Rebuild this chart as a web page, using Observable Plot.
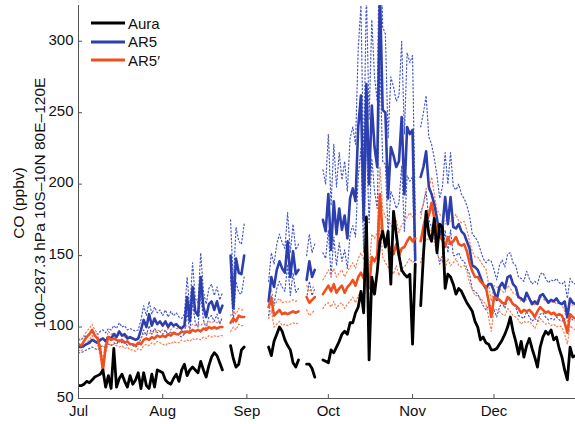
<!DOCTYPE html>
<html>
<head>
<meta charset="utf-8">
<script src="https://cdn.jsdelivr.net/npm/d3@7"></script>
<script src="https://cdn.jsdelivr.net/npm/@observablehq/plot@0.6"></script>
<style>
  body { margin: 0; background: #fff; font-family: "Liberation Sans", Arial, Helvetica, sans-serif; }
  #wrap { position: relative; width: 575px; height: 424px; overflow: hidden; background: #fff; }
  #chart svg { display: block; }
  #legend { position: absolute; left: 91px; top: 14px; font-size: 15px; color: #111; }
  #legend .row { height: 18.5px; display: flex; align-items: center; white-space: nowrap; }
  #legend svg { margin-right: 3px; }
  #ylabel { position: absolute; left: 29px; top: 203px; transform: translate(-50%, -50%) rotate(-90deg);
            white-space: nowrap; text-align: center; font-size: 15.5px; line-height: 21px; color: #111; }
</style>
</head>
<body>
<div id="wrap">
  <div id="chart"></div>
  <div id="legend"></div>
  <div id="ylabel">CO (ppbv)<br>100–287.3 hPa 10S–10N 80E–120E</div>
</div>
<script>
// ---------- data (daily, 1 Jul – 31 Dec; null = no data) ----------
const seriesNames = ["Aura", "AR5", "AR5\u2032"];
const monthLabels = ["Jul", "Aug", "Sep", "Oct", "Nov", "Dec"];
const yTicks = [50, 100, 150, 200, 250, 300];

const aura = [
  // Jul
  59,59,60,62,61,63,65,66,67,70,58,66,57,85,58,64,67,62,58,66,60,63,68,57,68,59,57,67,58,70,69,
  // Aug
  68,63,61,60,64,67,62,70,74,66,70,72,70,68,76,70,65,73,79,82,80,75,70,null,null,87,78,72,74,84,86,
  // Sep
  null,null,null,null,null,null,null,null,86,80,90,95,100,97,91,87,84,75,72,77,null,null,74,74,71,65,null,null,77,76,
  // Oct
  75,84,82,86,90,95,97,95,103,103,110,114,125,110,177,77,135,123,139,160,167,156,167,130,181,165,150,140,137,135,137,
  // Nov
  88,144,null,115,150,181,165,160,176,152,172,170,127,137,135,130,123,127,125,121,117,114,111,104,100,91,93,89,88,84,
  // Dec
  84,85,88,91,95,100,107,97,90,81,90,79,87,92,85,79,72,86,93,97,95,98,91,93,85,79,70,63,86,79,80
];

const ar5 = [
  86,86,87,88,89,91,90,89,91,92,90,93,92,95,93,97,94,95,92,93,92,91,92,98,105,100,109,101,106,102,104,
  101,104,100,103,101,102,100,99,101,121,104,128,111,108,135,114,107,116,118,112,118,110,115,null,null,150,113,148,138,137,150,
  null,null,null,null,null,null,null,null,118,135,128,140,146,141,138,160,135,153,137,140,null,null,133,146,135,140,null,null,175,167,
  193,154,188,165,183,168,178,162,190,197,188,240,262,175,270,200,255,226,212,335,252,250,190,226,220,212,216,247,193,240,235,
  238,147,null,205,212,223,198,193,186,176,163,170,191,172,191,170,169,172,167,165,160,155,143,142,140,135,130,127,130,130,
  125,119,128,131,127,135,136,130,128,121,120,118,124,120,116,118,116,122,123,120,117,119,118,120,117,116,118,107,120,117,116
];
const ar5Hi = [
  91,91,93,94,95,97,96,95,97,98,96,99,98,101,99,103,100,101,98,99,98,97,98,105,115,108,118,109,114,110,112,
  108,112,107,111,108,110,107,106,109,135,112,145,120,117,152,125,116,127,130,122,128,119,124,null,null,175,130,170,160,158,172,
  null,null,null,null,null,null,null,null,132,152,144,158,165,159,155,180,152,172,154,158,null,null,150,165,152,158,null,null,210,200,
  235,185,228,198,222,203,216,195,232,240,228,295,325,212,335,245,315,275,258,400,310,305,232,275,268,258,262,300,235,292,285,
  290,178,null,240,250,262,233,228,218,206,190,198,222,200,222,198,196,200,193,190,185,178,165,163,160,154,148,145,147,146,
  140,133,143,147,142,151,152,145,143,135,134,132,139,134,130,132,130,137,138,134,131,133,132,134,131,130,132,120,134,131,130
];
const ar5Lo = [
  82,82,83,84,85,86,85,84,86,87,85,88,87,89,88,91,89,90,87,88,87,86,87,92,98,94,101,95,99,96,97,
  95,98,94,97,95,96,94,93,95,110,97,117,103,100,123,105,99,107,108,104,109,102,107,null,null,135,103,132,124,123,135,
  null,null,null,null,null,null,null,null,108,122,116,127,132,128,125,144,122,138,124,127,null,null,120,132,122,127,null,null,152,148,
  168,135,163,143,159,146,154,141,165,171,163,205,225,152,232,173,218,195,183,285,216,214,165,195,190,183,187,213,167,206,202,
  205,128,null,180,186,195,175,170,164,155,144,150,168,152,168,150,150,152,147,146,141,137,126,125,123,119,115,112,115,115,
  112,107,114,117,113,120,121,116,114,108,107,106,111,107,104,106,104,109,110,107,105,106,105,107,105,104,106,96,107,105,104
];

const ar5p = [
  88,87,90,93,95,98,94,92,84,70,86,93,91,92,91,90,91,89,90,88,88,87,89,88,91,92,91,93,92,94,93,
  94,93,95,94,96,95,95,97,96,97,96,98,97,98,97,99,98,100,99,100,99,100,100,null,null,103,106,104,108,107,107,
  null,null,null,null,null,null,null,null,114,120,108,110,112,109,110,109,110,111,110,111,null,null,121,117,119,121,null,null,123,126,
  129,125,130,124,127,129,124,128,130,133,129,135,138,134,146,127,149,146,150,193,165,160,157,155,151,158,150,155,156,160,163,
  160,162,null,160,170,179,178,187,176,166,163,161,156,163,158,160,163,158,157,158,153,145,139,135,135,132,130,128,118,107,
  121,120,119,117,116,121,119,116,115,113,110,112,111,112,110,107,111,114,112,110,111,109,110,108,109,108,103,96,109,107,106
];
const ar5pHi = [
  92,91,94,97,99,102,98,96,88,76,90,97,95,96,95,94,95,93,94,92,92,91,93,92,95,96,95,97,96,98,97,
  98,97,99,98,100,99,99,101,100,101,100,102,101,102,101,103,102,104,103,104,103,104,104,null,null,108,111,109,113,112,112,
  null,null,null,null,null,null,null,null,121,127,115,118,120,117,118,117,118,119,118,119,null,null,129,125,127,129,null,null,133,136,
  140,136,141,135,138,140,135,139,142,145,141,148,152,147,162,140,165,162,166,212,182,177,174,172,167,175,166,172,173,177,180,
  177,179,null,176,187,197,196,205,193,182,179,177,172,179,174,176,179,174,173,174,168,160,153,149,149,146,143,141,130,118,
  129,128,127,125,124,129,127,124,123,121,118,120,119,120,118,115,119,122,120,118,119,117,118,116,117,116,111,104,117,115,114
];
const ar5pLo = [
  84,83,86,89,91,94,90,88,80,66,82,89,87,88,87,86,87,85,86,84,84,83,85,84,87,88,87,89,88,90,89,
  88,87,89,88,90,89,89,91,90,91,90,92,91,92,91,93,92,94,93,94,93,94,94,null,null,97,100,98,102,101,101,
  null,null,null,null,null,null,null,null,106,112,100,102,104,101,102,101,102,103,102,103,null,null,112,108,110,112,null,null,113,116,
  117,114,118,113,116,117,113,116,118,121,117,122,125,121,131,115,134,131,135,175,149,145,142,140,137,143,136,141,142,145,148,
  145,147,null,145,154,162,161,170,160,151,148,146,141,148,143,145,148,143,142,143,139,131,126,122,122,120,118,116,107,97,
  113,112,111,109,108,113,111,108,107,105,102,104,103,104,102,99,103,106,104,102,103,101,102,100,101,100,95,88,101,99,98
];

// ---------- build table ----------
const start = new Date(Date.UTC(2011, 6, 1));
const end = new Date(Date.UTC(2011, 11, 31));
const dates = aura.map((_, i) => d3.utcDay.offset(start, i));
const rows = dates.map((date, i) => ({
  date, aura: aura[i], ar5: ar5[i], ar5Hi: ar5Hi[i], ar5Lo: ar5Lo[i],
  ar5p: ar5p[i], ar5pHi: ar5pHi[i], ar5pLo: ar5pLo[i]
}));
const monthTicks = monthLabels.map((_, i) => d3.utcMonth.offset(start, i));
const labelOf = new Map(monthTicks.map((d, i) => [+d, monthLabels[i]]));

const colors = ["#000000", "#2d3fae", "#f0501e"];
const dotBlue = "#4558cc", dotRed = "#f57d52";

const dotted = {strokeWidth: 1.2, strokeDasharray: "1.3,2.4", clip: true};
const chart = Plot.plot({
  width: 575, height: 424,
  marginLeft: 78, marginRight: 0, marginTop: 5, marginBottom: 26,
  style: {fontFamily: "'Liberation Sans', Arial, Helvetica, sans-serif", fontSize: "15px", color: "#111", background: "#fff"},
  x: {type: "utc", domain: [start, end]},
  y: {domain: [50, 325]},
  marks: [
    Plot.line(rows, {x: "date", y: "ar5Hi", stroke: dotBlue, ...dotted}),
    Plot.line(rows, {x: "date", y: "ar5Lo", stroke: dotBlue, ...dotted}),
    Plot.line(rows, {x: "date", y: "ar5pHi", stroke: dotRed, ...dotted}),
    Plot.line(rows, {x: "date", y: "ar5pLo", stroke: dotRed, ...dotted}),
    Plot.line(rows, {x: "date", y: "ar5", stroke: colors[1], strokeWidth: 2.6, clip: true}),
    Plot.line(rows, {x: "date", y: "ar5p", stroke: colors[2], strokeWidth: 2.6, clip: true}),
    Plot.line(rows, {x: "date", y: "aura", stroke: colors[0], strokeWidth: 2.8, clip: true}),
    Plot.ruleX([start], {stroke: "#555", strokeWidth: 1}),
    Plot.ruleY([50], {stroke: "#555", strokeWidth: 1}),
    Plot.axisY({ticks: yTicks, tickSize: 4, insetLeft: 4, tickPadding: 5, label: null, stroke: "#555", text: null}),
    Plot.axisY({ticks: yTicks, tickSize: 0, tickPadding: 5, label: null, dy: -1.5}),
    Plot.axisX({ticks: monthTicks, tickFormat: d => labelOf.get(+d), tickSize: 4, insetBottom: 4, tickPadding: 7, label: null, stroke: "#555"})
  ]
});
document.getElementById("chart").append(chart);

// ---------- legend ----------
const legend = document.getElementById("legend");
seriesNames.forEach((name, i) => {
  const row = document.createElement("div");
  row.className = "row";
  row.innerHTML = `<svg width="34" height="6"><line x1="0" y1="3" x2="34" y2="3" stroke="${colors[i]}" stroke-width="2.8"/></svg><span>${name}</span>`;
  legend.append(row);
});
</script>
</body>
</html>
